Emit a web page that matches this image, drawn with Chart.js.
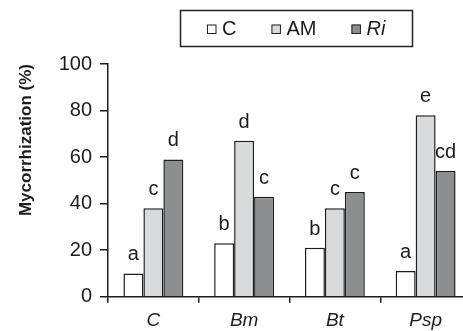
<!DOCTYPE html>
<html>
<head>
<meta charset="utf-8">
<script src="https://cdn.jsdelivr.net/npm/chart.js@4/dist/chart.umd.min.js"></script>
<style>
  html, body { margin: 0; padding: 0; overflow: hidden; background: #fff; }
  #wrap { width: 463px; height: 331px; overflow: hidden; }
</style>
</head>
<body>
<div id="wrap"><canvas id="barChart" width="480" height="331"></canvas></div>
<script>
// categories (treatments) and the three series
var categories = ['C', 'Bm', 'Bt', 'Psp']
var seriesNames = ['C', 'AM', 'Ri']
var seriesItalic = [false, false, true]
var valuesC = [10, 23, 21, 11]
var valuesAM = [38, 67, 38, 78]
var valuesRi = [59, 43, 45, 54]
// significance letters above each bar
var lettersC = ['a', 'b', 'b', 'a']
var lettersAM = ['c', 'd', 'c', 'e']
var lettersRi = ['d', 'c', 'c', 'cd']
var yTicks = [0, 20, 40, 60, 80, 100]

var FONT = '"Liberation Sans", Arial, Helvetica, sans-serif'
var INK = '#1c1c1c'
var fills = ['#ffffff', '#d9dadb', '#8d8e90']
var letters = [lettersC, lettersAM, lettersRi]

// letters over the bars
var letterPlugin = {
	id: 'letters',
	afterDatasetsDraw: function (chart) {
		var ctx = chart.ctx
		ctx.save()
		ctx.font = '20px ' + FONT
		ctx.fillStyle = INK
		ctx.textAlign = 'center'
		ctx.textBaseline = 'alphabetic'
		chart.data.datasets.forEach(function (ds, d) {
			var meta = chart.getDatasetMeta(d)
			meta.data.forEach(function (bar, i) {
				ctx.fillText(letters[d][i], bar.x, bar.y - 13)
			})
		})
		ctx.restore()
	}
}

// boxed legend at the top, Ri in italics
var legendPlugin = {
	id: 'boxLegend',
	afterDraw: function (chart) {
		var ctx = chart.ctx
		ctx.save()
		ctx.strokeStyle = '#222'
		ctx.lineWidth = 1.5
		ctx.strokeRect(180.5, 10.5, 232, 36)
		var x = 207
		var cy = 29
		chart.data.datasets.forEach(function (ds, d) {
			ctx.fillStyle = ds.backgroundColor
			ctx.fillRect(x, cy - 4.5, 9, 9)
			ctx.lineWidth = 1
			ctx.strokeStyle = '#222'
			ctx.strokeRect(x + 0.5, cy - 4, 8.5, 8.5)
			ctx.font = (seriesItalic[d] ? 'italic ' : '') + '20px ' + FONT
			ctx.fillStyle = INK
			ctx.textBaseline = 'middle'
			ctx.textAlign = 'left'
			ctx.fillText(ds.label, x + 15, cy)
			x += 15 + ctx.measureText(ds.label).width + 35
		})
		ctx.restore()
	}
}

var ctxB = document.getElementById('barChart').getContext('2d')
var myBarChart = new Chart(ctxB, {
	type: 'bar',
	data: {
		labels: categories,
		datasets: [{
			label: seriesNames[0],
			data: valuesC,
			backgroundColor: fills[0]
		}, {
			label: seriesNames[1],
			data: valuesAM,
			backgroundColor: fills[1]
		}, {
			label: seriesNames[2],
			data: valuesRi,
			backgroundColor: fills[2]
		}]
	},
	options: {
		responsive: false,
		animation: false,
		devicePixelRatio: 1,
		layout: { padding: { top: 64, right: 9, bottom: 0, left: 0 } },
		datasets: {
			bar: {
				borderColor: INK,
				borderWidth: 1.5,
				barPercentage: 1,
				categoryPercentage: 0.66
			}
		},
		plugins: {
			legend: { display: false },
			tooltip: { enabled: false }
		},
		scales: {
			x: {
				grid: { drawOnChartArea: false, offset: true, tickLength: 6, color: INK, lineWidth: 1.5 },
				border: { color: INK, width: 1.5 },
				ticks: { color: INK, padding: 7, font: { family: FONT, size: 19, style: 'italic' } },
				afterFit: function (scale) { scale.height = 34.3 }
			},
			y: {
				min: 0,
				max: 100,
				afterBuildTicks: function (scale) {
					scale.ticks = yTicks.map(function (v) { return { value: v } })
				},
				grid: { drawOnChartArea: false, tickLength: 8, color: INK, lineWidth: 1.5 },
				border: { color: INK, width: 1.5 },
				ticks: { color: INK, padding: 8, font: { family: FONT, size: 20 } },
				title: {
					display: true,
					text: 'Mycorrhization (%)',
					align: 'end',
					color: INK,
					font: { family: FONT, size: 17, weight: 'bold' },
					padding: { top: 16, bottom: 0 }
				},
				afterFit: function (scale) { scale.width = 108 }
			}
		}
	},
	plugins: [letterPlugin, legendPlugin]
});
</script>
</body>
</html>
